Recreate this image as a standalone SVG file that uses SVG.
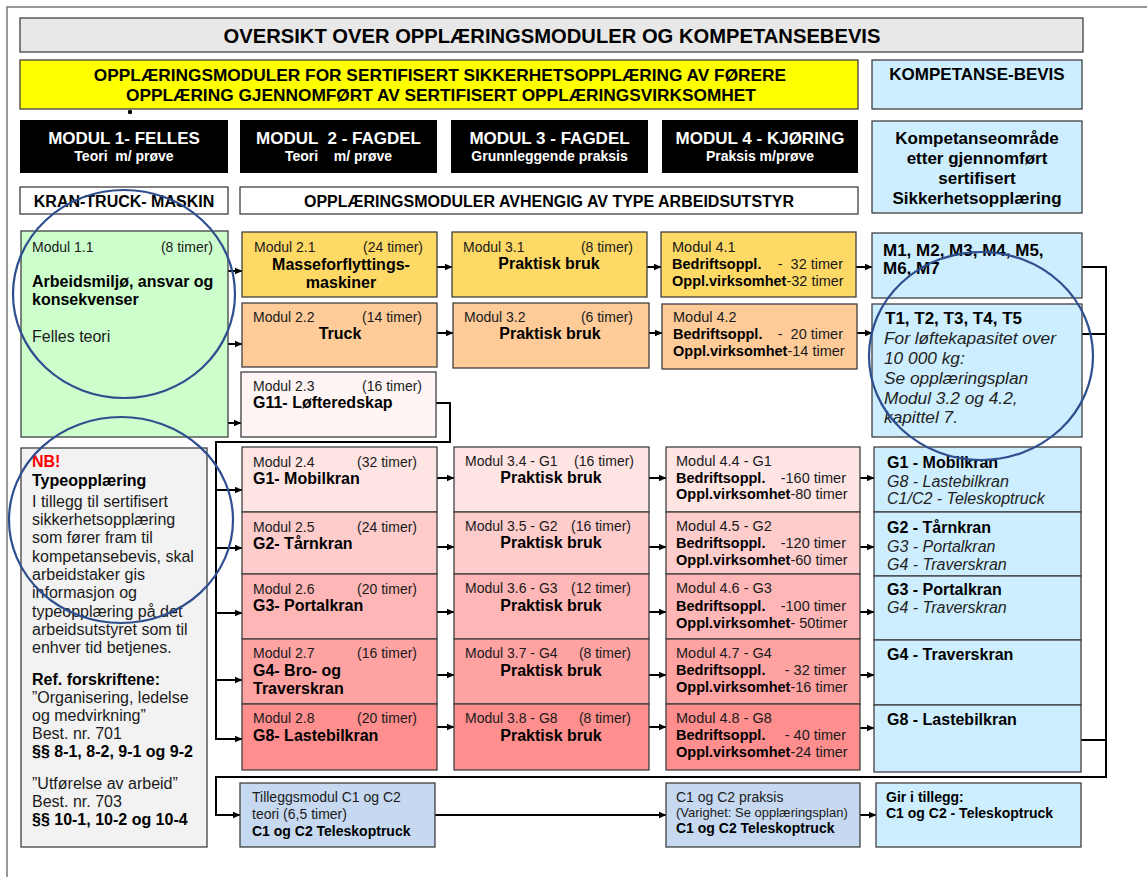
<svg xmlns="http://www.w3.org/2000/svg" width="1147" height="877" viewBox="0 0 1147 877">
<style>
text{font-family:"Liberation Sans",Arial,sans-serif;fill:#1a1a1a}
.b{font-weight:bold;fill:#000}
.w{fill:#fff}
.i{font-style:italic;fill:#222}
.pre{white-space:pre}
.f13{font-size:13px}.f14{font-size:14px}.f145{font-size:14.5px}.f16{font-size:16px}.f17{font-size:17px}.f173{font-size:17.3px}.f20{font-size:20.2px}
.box{stroke:#404040;stroke-width:1.3}
.con{fill:none;stroke:#000;stroke-width:2}
.ell{fill:none;stroke:#2e4e8e;stroke-width:2.2}
</style>
<defs>
<marker id="ah" markerWidth="8" markerHeight="8" refX="7" refY="4" orient="auto" markerUnits="userSpaceOnUse"><path d="M0,0.8 L7.5,4 L0,7.2 Z" fill="#000"/></marker>
</defs>
<rect width="1147" height="877" fill="#fff"/>
<path d="M7,877 V7 H1147" fill="none" stroke="#777" stroke-width="1.5"/>

<g id="title"><rect class="box" x="20" y="18" width="1063" height="34" fill="#e8e8e8"/><text class="b f20" x="552" y="43" text-anchor="middle">OVERSIKT OVER OPPLÆRINGSMODULER OG KOMPETANSEBEVIS</text></g>
<g id="yellow"><rect class="box" x="20" y="60" width="838" height="49" fill="#ffff00"/><text class="b f173" x="440" y="81" text-anchor="middle">OPPLÆRINGSMODULER FOR SERTIFISERT SIKKERHETSOPPLÆRING AV FØRERE</text><text class="b f173" x="441" y="101" text-anchor="middle">OPPLÆRING GJENNOMFØRT AV SERTIFISERT OPPLÆRINGSVIRKSOMHET</text></g>
<circle cx="130" cy="112" r="2.2" fill="#000"/>
<g id="kbevis"><rect class="box" x="872" y="60" width="210" height="49" fill="#cceeff"/><text class="b f17" x="977" y="80" text-anchor="middle">KOMPETANSE-BEVIS</text></g>

<g id="m1h"><rect x="20" y="120" width="208" height="53" fill="#000"/><text class="b w f17" x="124" y="144" text-anchor="middle">MODUL 1- FELLES</text><text class="b w f14 pre" x="124" y="161" text-anchor="middle">Teori  m/ prøve</text></g>
<g id="m2h"><rect x="240" y="120" width="197" height="53" fill="#000"/><text class="b w f17 pre" x="338.5" y="144" text-anchor="middle">MODUL  2 - FAGDEL</text><text class="b w f14 pre" x="338.5" y="161" text-anchor="middle">Teori    m/ prøve</text></g>
<g id="m3h"><rect x="451" y="120" width="197" height="53" fill="#000"/><text class="b w f17" x="549.5" y="144" text-anchor="middle">MODUL 3 - FAGDEL</text><text class="b w f14" x="549.5" y="161" text-anchor="middle">Grunnleggende praksis</text></g>
<g id="m4h"><rect x="662" y="120" width="196" height="53" fill="#000"/><text class="b w f17" x="760" y="144" text-anchor="middle">MODUL 4 - KJØRING</text><text class="b w f14" x="760" y="161" text-anchor="middle">Praksis m/prøve</text></g>
<g id="komp"><rect class="box" x="872" y="121" width="210" height="92" fill="#cceeff"/><text class="b f17" x="977" y="144" text-anchor="middle">Kompetanseområde</text><text class="b f17" x="977" y="164" text-anchor="middle">etter gjennomført</text><text class="b f17" x="977" y="184" text-anchor="middle">sertifisert</text><text class="b f17" x="977" y="204" text-anchor="middle">Sikkerhetsopplæring</text></g>
<g id="ktm"><rect class="box" x="20" y="187" width="208" height="27" fill="#fff"/><text class="b f16" x="124" y="207" text-anchor="middle">KRAN-TRUCK- MASKIN</text></g>
<g id="avh"><rect class="box" x="240" y="187" width="618" height="27" fill="#fff"/><text class="b f16" x="549" y="207" text-anchor="middle">OPPLÆRINGSMODULER AVHENGIG AV TYPE ARBEIDSUTSTYR</text></g>

<g id="connectors">
<path class="con" d="M228,271 H242" marker-end="url(#ah)"/>
<path class="con" d="M228,344 H242" marker-end="url(#ah)"/>
<path class="con" d="M228,423 H241" marker-end="url(#ah)"/>
<path class="con" d="M437,267 H452" marker-end="url(#ah)"/>
<path class="con" d="M437,333 H453" marker-end="url(#ah)"/>
<path class="con" d="M647,267 H661" marker-end="url(#ah)"/>
<path class="con" d="M648,333 H662" marker-end="url(#ah)"/>
<path class="con" d="M856,267 H872" marker-end="url(#ah)"/>
<path class="con" d="M857,333 H872" marker-end="url(#ah)"/>
<path class="con" d="M436,403 H450 V442 H216 V739 H242" marker-end="url(#ah)"/>
<path class="con" d="M216,490 H242" marker-end="url(#ah)"/>
<path class="con" d="M216,548 H242" marker-end="url(#ah)"/>
<path class="con" d="M216,613 H242" marker-end="url(#ah)"/>
<path class="con" d="M216,680 H242" marker-end="url(#ah)"/>
<path class="con" d="M437,478 H454" marker-end="url(#ah)"/>
<path class="con" d="M437,547 H454" marker-end="url(#ah)"/>
<path class="con" d="M437,612 H454" marker-end="url(#ah)"/>
<path class="con" d="M437,675 H454" marker-end="url(#ah)"/>
<path class="con" d="M437,727 H454" marker-end="url(#ah)"/>
<path class="con" d="M649,478 H666" marker-end="url(#ah)"/>
<path class="con" d="M649,547 H666" marker-end="url(#ah)"/>
<path class="con" d="M649,612 H666" marker-end="url(#ah)"/>
<path class="con" d="M649,675 H666" marker-end="url(#ah)"/>
<path class="con" d="M649,727 H666" marker-end="url(#ah)"/>
<path class="con" d="M860,478 H874" marker-end="url(#ah)"/>
<path class="con" d="M860,547 H874" marker-end="url(#ah)"/>
<path class="con" d="M860,612 H874" marker-end="url(#ah)"/>
<path class="con" d="M860,675 H874" marker-end="url(#ah)"/>
<path class="con" d="M860,728 H874" marker-end="url(#ah)"/>
<path class="con" d="M1082,267 H1106 V777 H216 V815 H240" marker-end="url(#ah)"/>
<path class="con" d="M1082,334 H1106"/>
<path class="con" d="M1081,740 H1106"/>
<path class="con" d="M435,815 H666" marker-end="url(#ah)"/>
<path class="con" d="M860,815 H876" marker-end="url(#ah)"/>
</g>

<g id="m11"><rect class="box" x="21" y="231" width="207" height="206" fill="#ccffcc"/><text class="f14" x="32" y="252">Modul 1.1</text><text class="f14" x="213" y="252" text-anchor="end">(8 timer)</text><text class="b f16" x="32" y="287">Arbeidsmiljø, ansvar og</text><text class="b f16" x="32" y="305">konsekvenser</text><text class="f16" x="32" y="342">Felles teori</text></g>

<g id="m21"><rect class="box" x="242" y="232" width="195" height="65" fill="#ffd966"/><text class="f14" x="254" y="252">Modul 2.1</text><text class="f14" x="423" y="252" text-anchor="end">(24 timer)</text><text class="b f16" x="341" y="270" text-anchor="middle">Masseforflyttings-</text><text class="b f16" x="341" y="288" text-anchor="middle">maskiner</text></g>
<g id="m22"><rect class="box" x="242" y="303" width="195" height="64" fill="#ffcc99"/><text class="f14" x="253" y="322">Modul 2.2</text><text class="f14" x="422" y="322" text-anchor="end">(14 timer)</text><text class="b f16" x="340" y="339" text-anchor="middle">Truck</text></g>
<g id="m23"><rect class="box" x="241" y="372" width="195" height="65" fill="#fff5f5"/><text class="f14" x="253" y="391">Modul 2.3</text><text class="f14" x="422" y="391" text-anchor="end">(16 timer)</text><text class="b f16" x="253" y="408">G11- Løfteredskap</text></g>
<g id="m31"><rect class="box" x="452" y="232" width="195" height="65" fill="#ffd966"/><text class="f14" x="463" y="252">Modul 3.1</text><text class="f14" x="633" y="252" text-anchor="end">(8 timer)</text><text class="b f16" x="549" y="269" text-anchor="middle">Praktisk bruk</text></g>
<g id="m32"><rect class="box" x="453" y="303" width="196" height="65" fill="#ffcc99"/><text class="f14" x="464" y="322">Modul 3.2</text><text class="f14" x="633" y="322" text-anchor="end">(6 timer)</text><text class="b f16" x="550" y="339" text-anchor="middle">Praktisk bruk</text></g>
<g id="m41"><rect class="box" x="661" y="232" width="195" height="65" fill="#ffd966"/><text class="f145" x="672" y="252">Modul 4.1</text><text class="b f145" x="672" y="269">Bedriftsoppl.</text><text class="f145 pre" x="843" y="269" text-anchor="end">-  32 timer</text><text class="f145" x="672" y="286"><tspan class="b">Oppl.virksomhet</tspan>-32 timer</text></g>
<g id="m42"><rect class="box" x="662" y="304" width="195" height="65" fill="#ffcc99"/><text class="f145" x="673" y="322">Modul 4.2</text><text class="b f145" x="673" y="339">Bedriftsoppl.</text><text class="f145 pre" x="843" y="339" text-anchor="end">-  20 timer</text><text class="f145" x="673" y="356"><tspan class="b">Oppl.virksomhet</tspan>-14 timer</text></g>
<g id="mbev"><rect class="box" x="872" y="233" width="210" height="65" fill="#cceeff"/><text class="b f17" x="883" y="256">M1, M2, M3, M4, M5,</text><text class="b f17" x="883" y="274">M6, M7</text></g>
<g id="tbev"><rect class="box" x="872" y="304" width="210" height="133" fill="#cceeff"/><text class="b f17" x="885" y="324">T1, T2, T3, T4, T5</text><text class="i f173" x="884" y="344">For løftekapasitet over</text><text class="i f173" x="884" y="364">10 000 kg:</text><text class="i f173" x="884" y="384">Se opplæringsplan</text><text class="i f173" x="884" y="404">Modul 3.2 og 4.2,</text><text class="i f173" x="884" y="423">kapittel 7.</text></g>

<g id="nb"><rect class="box" x="21" y="448" width="186" height="399" fill="#f2f2f2"/>
<text class="b f16" x="32" y="467" style="fill:#ff0000">NB!</text>
<text class="b f16" x="32" y="486">Typeopplæring</text>
<text class="f16" x="32" y="507">I tillegg til sertifisert</text>
<text class="f16" x="32" y="525">sikkerhetsopplæring</text>
<text class="f16" x="32" y="543">som fører fram til</text>
<text class="f16" x="32" y="562">kompetansebevis, skal</text>
<text class="f16" x="32" y="580">arbeidstaker gis</text>
<text class="f16" x="32" y="598">informasjon og</text>
<text class="f16" x="32" y="617">typeopplæring på det</text>
<text class="f16" x="32" y="635">arbeidsutstyret som til</text>
<text class="f16" x="32" y="653">enhver tid betjenes.</text>
<text class="b f16" x="32" y="685">Ref. forskriftene:</text>
<text class="f16" x="32" y="703">”Organisering, ledelse</text>
<text class="f16" x="32" y="721">og medvirkning”</text>
<text class="f16" x="32" y="739">Best. nr. 701</text>
<text class="b f16" x="32" y="757">§§ 8-1, 8-2, 9-1 og 9-2</text>
<text class="f16" x="32" y="789">”Utførelse av arbeid”</text>
<text class="f16" x="32" y="807">Best. nr. 703</text>
<text class="b f16" x="32" y="825">§§ 10-1, 10-2 og 10-4</text>
</g>

<g id="m24"><rect class="box" x="242" y="447" width="195" height="65" fill="#ffe4e4"/><text class="f14" x="253" y="467">Modul 2.4</text><text class="f14" x="417" y="467" text-anchor="end">(32 timer)</text><text class="b f16" x="253" y="484">G1- Mobilkran</text></g>
<g id="m25"><rect class="box" x="242" y="512" width="195" height="62" fill="#ffcccc"/><text class="f14" x="253" y="532">Modul 2.5</text><text class="f14" x="417" y="532" text-anchor="end">(24 timer)</text><text class="b f16" x="253" y="549">G2- Tårnkran</text></g>
<g id="m26"><rect class="box" x="242" y="574" width="195" height="65" fill="#ffb6b6"/><text class="f14" x="253" y="594">Modul 2.6</text><text class="f14" x="417" y="594" text-anchor="end">(20 timer)</text><text class="b f16" x="253" y="611">G3- Portalkran</text></g>
<g id="m27"><rect class="box" x="242" y="639" width="195" height="65" fill="#ffa2a2"/><text class="f14" x="253" y="658">Modul 2.7</text><text class="f14" x="417" y="658" text-anchor="end">(16 timer)</text><text class="b f16" x="253" y="676">G4- Bro- og</text><text class="b f16" x="253" y="694">Traverskran</text></g>
<g id="m28"><rect class="box" x="242" y="704" width="195" height="66" fill="#ff8e8e"/><text class="f14" x="253" y="723">Modul 2.8</text><text class="f14" x="417" y="723" text-anchor="end">(20 timer)</text><text class="b f16" x="253" y="741">G8- Lastebilkran</text></g>

<g id="m34"><rect class="box" x="454" y="447" width="195" height="65" fill="#ffe4e4"/><text class="f14" x="465" y="466">Modul 3.4 - G1</text><text class="f14" x="634" y="466" text-anchor="end">(16 timer)</text><text class="b f16" x="551" y="483" text-anchor="middle">Praktisk bruk</text></g>
<g id="m35"><rect class="box" x="454" y="512" width="195" height="62" fill="#ffcccc"/><text class="f14" x="465" y="531">Modul 3.5 - G2</text><text class="f14" x="631" y="531" text-anchor="end">(16 timer)</text><text class="b f16" x="551" y="548" text-anchor="middle">Praktisk bruk</text></g>
<g id="m36"><rect class="box" x="454" y="574" width="195" height="65" fill="#ffb6b6"/><text class="f14" x="465" y="593">Modul 3.6 - G3</text><text class="f14" x="631" y="593" text-anchor="end">(12 timer)</text><text class="b f16" x="551" y="611" text-anchor="middle">Praktisk bruk</text></g>
<g id="m37"><rect class="box" x="454" y="639" width="195" height="65" fill="#ffa2a2"/><text class="f14" x="465" y="658">Modul 3.7 - G4</text><text class="f14" x="631" y="658" text-anchor="end">(8 timer)</text><text class="b f16" x="551" y="676" text-anchor="middle">Praktisk bruk</text></g>
<g id="m38"><rect class="box" x="454" y="704" width="195" height="66" fill="#ff8e8e"/><text class="f14" x="465" y="723">Modul 3.8 - G8</text><text class="f14" x="631" y="723" text-anchor="end">(8 timer)</text><text class="b f16" x="551" y="741" text-anchor="middle">Praktisk bruk</text></g>

<g id="m44"><rect class="box" x="666" y="447" width="194" height="65" fill="#ffe4e4"/><text class="f145" x="676" y="466">Modul 4.4 - G1</text><text class="b f145" x="676" y="483">Bedriftsoppl.</text><text class="f145" x="846" y="483" text-anchor="end">-160 timer</text><text class="f145" x="676" y="499"><tspan class="b">Oppl.virksomhet</tspan>-80 timer</text></g>
<g id="m45"><rect class="box" x="666" y="512" width="194" height="62" fill="#ffcccc"/><text class="f145" x="676" y="531">Modul 4.5 - G2</text><text class="b f145" x="676" y="548">Bedriftsoppl.</text><text class="f145" x="846" y="548" text-anchor="end">-120 timer</text><text class="f145" x="676" y="565"><tspan class="b">Oppl.virksomhet</tspan>-60 timer</text></g>
<g id="m46"><rect class="box" x="666" y="574" width="194" height="65" fill="#ffb6b6"/><text class="f145" x="676" y="593">Modul 4.6 - G3</text><text class="b f145" x="676" y="611">Bedriftsoppl.</text><text class="f145" x="846" y="611" text-anchor="end">-100 timer</text><text class="f145" x="676" y="628"><tspan class="b">Oppl.virksomhet</tspan>- 50timer</text></g>
<g id="m47"><rect class="box" x="666" y="639" width="194" height="65" fill="#ffa2a2"/><text class="f145" x="676" y="658">Modul 4.7 - G4</text><text class="b f145" x="676" y="675">Bedriftsoppl.</text><text class="f145" x="846" y="675" text-anchor="end">- 32 timer</text><text class="f145" x="676" y="692"><tspan class="b">Oppl.virksomhet</tspan>-16 timer</text></g>
<g id="m48"><rect class="box" x="666" y="704" width="194" height="66" fill="#ff8e8e"/><text class="f145" x="676" y="723">Modul 4.8 - G8</text><text class="b f145" x="676" y="740">Bedriftsoppl.</text><text class="f145" x="846" y="740" text-anchor="end">- 40 timer</text><text class="f145" x="676" y="757"><tspan class="b">Oppl.virksomhet</tspan>-24 timer</text></g>

<g id="g1"><rect class="box" x="874" y="447" width="207" height="65" fill="#cceeff"/><text class="b f16" x="887" y="468">G1 - Mobilkran</text><text class="i f16" x="887" y="487">G8 - Lastebilkran</text><text class="i f16" x="887" y="504">C1/C2 - Teleskoptruck</text></g>
<g id="g2"><rect class="box" x="874" y="512" width="207" height="64" fill="#cceeff"/><text class="b f16" x="887" y="533">G2 - Tårnkran</text><text class="i f16" x="887" y="552">G3 - Portalkran</text><text class="i f16" x="887" y="570">G4 - Traverskran</text></g>
<g id="g3"><rect class="box" x="874" y="576" width="207" height="64" fill="#cceeff"/><text class="b f16" x="887" y="595">G3 - Portalkran</text><text class="i f16" x="887" y="613">G4 - Traverskran</text></g>
<g id="g4"><rect class="box" x="874" y="640" width="207" height="65" fill="#cceeff"/><text class="b f16" x="887" y="660">G4 - Traverskran</text></g>
<g id="g8"><rect class="box" x="874" y="705" width="207" height="67" fill="#cceeff"/><text class="b f16" x="887" y="725">G8 - Lastebilkran</text></g>

<g id="tillegg"><rect class="box" x="240" y="783" width="195" height="64" fill="#c6d9f1"/><text class="f14" x="252" y="802">Tilleggsmodul C1 og C2</text><text class="f14" x="252" y="819">teori (6,5 timer)</text><text class="b f14" x="252" y="836">C1 og C2 Teleskoptruck</text></g>
<g id="c1praksis"><rect class="box" x="666" y="783" width="194" height="64" fill="#c6d9f1"/><text class="f14" x="676" y="802">C1 og C2 praksis</text><text class="f13" x="676" y="817">(Varighet: Se opplæringsplan)</text><text class="b f14" x="676" y="833">C1 og C2 Teleskoptruck</text></g>
<g id="gir"><rect class="box" x="876" y="783" width="205" height="64" fill="#cceeff"/><text class="b f14" x="886" y="802">Gir i tillegg:</text><text class="b f14" x="886" y="818">C1 og C2 - Teleskoptruck</text></g>

<g id="annotations">
<ellipse class="ell" cx="124" cy="294" rx="111" ry="104"/>
<ellipse class="ell" cx="121" cy="520" rx="112" ry="103"/>
<ellipse class="ell" cx="981" cy="356" rx="112" ry="104"/>
</g>
</svg>
